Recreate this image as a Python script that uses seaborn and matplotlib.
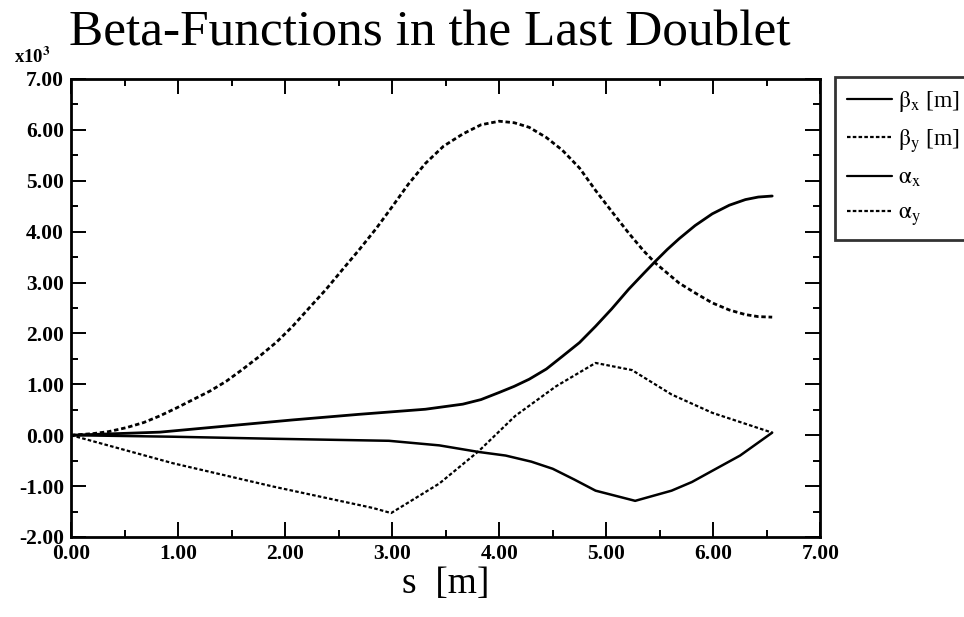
import matplotlib
matplotlib.use("Agg")
import matplotlib.pyplot as plt
from matplotlib.ticker import MultipleLocator, FormatStrFormatter
from matplotlib.lines import Line2D
import seaborn as sns
import pandas as pd

# ---- data (values in units of 10^3) ----
s_bx = [0.0, 0.83, 1.45, 2.07, 2.69, 3.31, 3.66, 3.83, 4.00, 4.14, 4.28, 4.44, 4.59, 4.75, 4.90, 5.05,
        5.21, 5.35, 5.46, 5.57, 5.68, 5.83, 5.99, 6.15, 6.30, 6.42, 6.55]
beta_x = [0.0, 0.06, 0.18, 0.30, 0.41, 0.51, 0.61, 0.70, 0.84, 0.96, 1.10, 1.30, 1.55, 1.82, 2.14, 2.48,
          2.87, 3.18, 3.42, 3.65, 3.86, 4.12, 4.35, 4.52, 4.63, 4.68, 4.70]

s_by = [0.0, 0.20, 0.35, 0.52, 0.68, 0.83, 0.98, 1.14, 1.30, 1.45, 1.60, 1.76, 1.92, 2.07, 2.22, 2.38,
        2.53, 2.69, 2.85, 3.00, 3.15, 3.31, 3.48, 3.66, 3.83, 4.00, 4.14, 4.28, 4.44, 4.59, 4.75, 4.90,
        5.05, 5.21, 5.35, 5.46, 5.68, 5.85, 5.99, 6.15, 6.30, 6.42, 6.55]
beta_y = [0.0, 0.03, 0.07, 0.15, 0.25, 0.38, 0.53, 0.70, 0.87, 1.06, 1.29, 1.55, 1.83, 2.14, 2.49, 2.86,
          3.24, 3.64, 4.06, 4.49, 4.93, 5.34, 5.68, 5.92, 6.10, 6.17, 6.14, 6.05, 5.85, 5.60, 5.25, 4.81,
          4.40, 3.97, 3.62, 3.38, 2.99, 2.77, 2.60, 2.46, 2.37, 2.33, 2.32]

s_ax = [0.0, 0.95, 1.89, 2.97, 3.44, 3.81, 4.06, 4.30, 4.50, 4.70, 4.90, 5.27, 5.61, 5.80, 5.99, 6.25, 6.55]
alpha_x = [0.0, -0.03, -0.07, -0.11, -0.20, -0.33, -0.40, -0.52, -0.66, -0.87, -1.09, -1.29, -1.09,
           -0.92, -0.70, -0.40, 0.05]

s_ay = [0.0, 0.95, 1.89, 2.82, 2.99, 3.44, 3.81, 4.15, 4.53, 4.90, 5.24, 5.61, 5.99, 6.55]
alpha_y = [0.0, -0.55, -1.01, -1.43, -1.53, -0.95, -0.31, 0.38, 0.96, 1.42, 1.28, 0.80, 0.44, 0.05]

labels = [r'$\mathrm{\beta_x}$ [m]', r'$\mathrm{\beta_y}$ [m]', r'$\mathrm{\alpha_x}$', r'$\mathrm{\alpha_y}$']
xticks = [0, 1, 2, 3, 4, 5, 6, 7]
yticks = [-2, -1, 0, 1, 2, 3, 4, 5, 6, 7]

frames = []
for lab, xs, ys in zip(labels, [s_bx, s_by, s_ax, s_ay], [beta_x, beta_y, alpha_x, alpha_y]):
    frames.append(pd.DataFrame({"s": xs, "v": ys, "series": lab}))
df = pd.concat(frames, ignore_index=True)

sns.set_theme(style="white")
plt.rcParams['font.family'] = ['Liberation Serif', 'DejaVu Serif']
plt.rcParams['mathtext.fontset'] = 'stix'
plt.rcParams['text.color'] = 'black'
plt.rcParams['axes.labelcolor'] = 'black'
plt.rcParams['xtick.color'] = 'black'
plt.rcParams['ytick.color'] = 'black'

fig = plt.figure(figsize=(9.64, 6.17), dpi=100)
ax = fig.add_axes([0.0737, 0.1297, 0.851 - 0.0737, 0.872 - 0.1297])

dot = (0, (1.6, 1.0))
styles = {labels[0]: "-", labels[1]: dot, labels[2]: "-", labels[3]: dot}
widths = {labels[0]: 2.0, labels[1]: 2.0, labels[2]: 1.8, labels[3]: 1.6}
for lab in labels:
    sub = df[df["series"] == lab]
    sns.lineplot(data=sub, x="s", y="v", ax=ax, color="black", sort=False, estimator=None,
                 linestyle=styles[lab], linewidth=widths[lab], legend=False)

ax.set_xlim(0, 7)
ax.set_ylim(-2, 7)
ax.set_xticks(xticks)
ax.set_yticks(yticks)
ax.xaxis.set_minor_locator(MultipleLocator(0.5))
ax.yaxis.set_minor_locator(MultipleLocator(0.5))
ax.xaxis.set_major_formatter(FormatStrFormatter('%.2f'))
ax.yaxis.set_major_formatter(FormatStrFormatter('%.2f'))
ax.tick_params(which='both', direction='in', top=True, right=True, bottom=True, left=True,
               colors='black', labelcolor='black', width=1.4)
ax.tick_params(which='major', length=11, labelsize=15.5, pad=5)
ax.tick_params(which='minor', length=5)
for lbl in ax.get_xticklabels() + ax.get_yticklabels():
    lbl.set_fontweight('bold')
for sp in ax.spines.values():
    sp.set_visible(True)
    sp.set_color('black')
    sp.set_linewidth(2.0)
ax.set_xlabel("s  [m]", fontsize=27, labelpad=2, color='black')
ax.set_ylabel("")

fig.text(430 / 964, 1 - 45 / 617, "Beta-Functions in the Last Doublet", ha='center', va='baseline',
         fontsize=37, color='black')
fig.text(14 / 964, 1 - 63 / 617, r"x10$^\mathbf{3}$", ha='left', va='baseline', fontsize=13.5,
         fontweight='bold', color='black')

handles = [Line2D([], [], color='black', linestyle=styles[l], linewidth=1.6) for l in labels]
leg = fig.legend(handles, labels, loc='upper left', bbox_to_anchor=(835 / 964, 1 - 77 / 617),
                 fontsize=17, frameon=True, fancybox=False, handlelength=1.9, handletextpad=0.25,
                 labelspacing=0.55, borderpad=0.5, borderaxespad=0)
for t in leg.get_texts():
    t.set_color('black')
leg.get_frame().set_edgecolor('black')
leg.get_frame().set_linewidth(2.0)

fig.savefig("out.png", dpi=100)
